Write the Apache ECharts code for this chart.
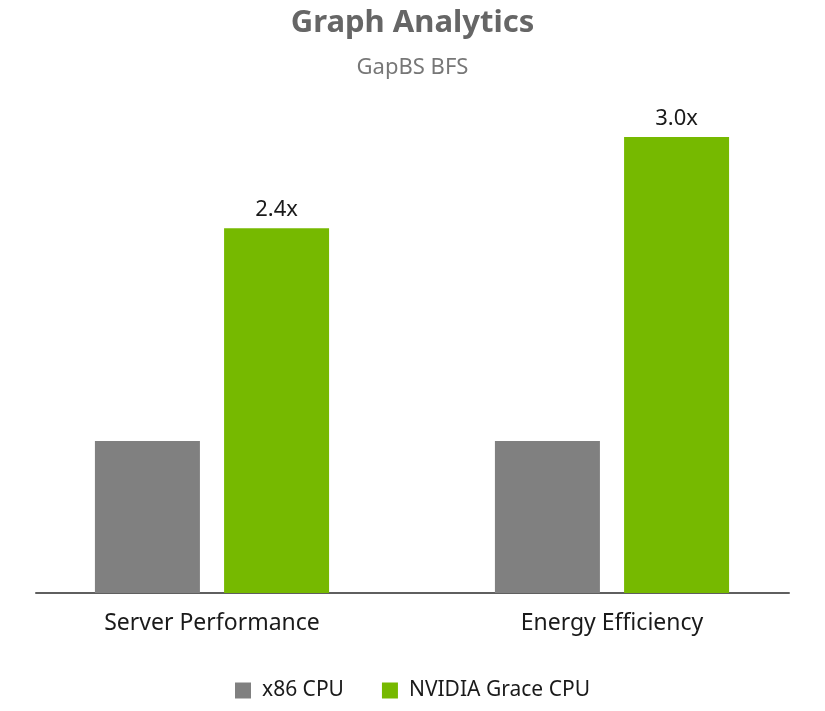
<!DOCTYPE html>
<html>
<head>
<meta charset="utf-8">
<script src="https://cdn.jsdelivr.net/npm/echarts@6/dist/echarts.min.js"></script>
<style>
  html, body { margin: 0; padding: 0; background: #fff; }
  #box { width: 825px; height: 711px; }
</style>
</head>
<body>
<div id="box"></div>
<script>
// 数据
const categories = ["Server Performance", "Energy Efficiency"];
const x86Values = [1.0, 1.0];
const graceValues = [2.4, 3.0];
const graceLabels = ["2.4x", "3.0x"];

const myChart = echarts.init(document.getElementById("box"));
const font = "Noto Sans";

const option = {
  backgroundColor: "#fff",
  animation: false,
  title: [
    {
      text: "Graph Analytics",
      left: "center",
      top: 3,
      textStyle: { fontFamily: font, fontSize: 31, fontWeight: "bold", color: "#666" },
    },
    {
      text: "GapBS BFS",
      left: "center",
      top: 52,
      textStyle: { fontFamily: font, fontSize: 22, fontWeight: "normal", color: "#777" },
    },
  ],
  legend: {
    bottom: 5,
    left: "center",
    itemWidth: 16,
    itemHeight: 16,
    itemGap: 38,
    icon: "rect",
    textStyle: { fontFamily: font, fontSize: 21, color: "#1a1a1a", padding: [0, 0, 0, 6] },
    data: ["x86 CPU", "NVIDIA Grace CPU"],
  },
  grid: [
    // 柱子所在区域
    { left: 12, right: 13, top: 61, bottom: 118 },
    // 只用来画底部的轴线
    { left: 36, right: 36, top: 61, bottom: 118 },
  ],
  xAxis: [
    {
      type: "category",
      gridIndex: 0,
      data: categories,
      axisLine: { show: false },
      axisTick: { show: false },
      axisLabel: { fontFamily: font, fontSize: 23, color: "#1a1a1a", margin: 19 },
    },
    {
      type: "category",
      gridIndex: 1,
      data: ["", ""],
      axisLine: { show: true, lineStyle: { color: "#5f5f5f", width: 2 } },
      axisTick: { show: false },
      axisLabel: { show: false },
    },
  ],
  yAxis: [
    { type: "value", gridIndex: 0, min: 0, max: 3.5, show: false },
    { type: "value", gridIndex: 1, min: 0, max: 3.5, show: false },
  ],
  series: [
    {
      name: "x86 CPU",
      type: "bar",
      data: x86Values,
      barWidth: 105,
      barGap: "23%",
      itemStyle: { color: "#808080" },
    },
    {
      name: "NVIDIA Grace CPU",
      type: "bar",
      data: graceValues,
      barWidth: 105,
      itemStyle: { color: "#76b900" },
      label: {
        show: true,
        position: "top",
        distance: 7,
        fontFamily: font,
        fontSize: 22,
        color: "#1a1a1a",
        formatter: (p) => graceLabels[p.dataIndex],
      },
    },
  ],
};

myChart.setOption(option);
</script>
</body>
</html>
